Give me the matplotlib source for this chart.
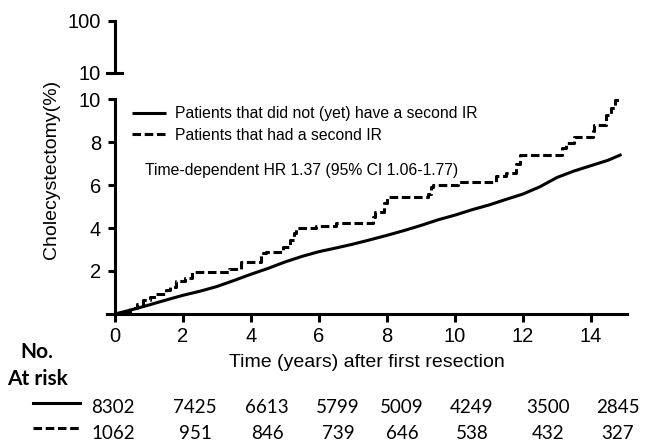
import matplotlib
matplotlib.use("Agg")
import matplotlib.pyplot as plt
from matplotlib.ticker import NullLocator, FixedLocator

plt.rcParams['font.family'] = ['Liberation Sans', 'DejaVu Sans']

# Кривая для пациентов без второй резекции
t_solid = [0, 0.5, 1, 1.5, 2, 2.5, 3, 3.5, 4, 4.5, 5, 5.5, 6, 6.5, 7, 7.5, 8,
           8.5, 9, 9.5, 10, 10.5, 11, 11.5, 12, 12.5, 13, 13.5, 14, 14.5, 14.9]
y_solid = [0, 0.2, 0.42, 0.65, 0.87, 1.06, 1.28, 1.56, 1.85, 2.12, 2.42, 2.68,
           2.9, 3.07, 3.25, 3.45, 3.66, 3.88, 4.12, 4.38, 4.6, 4.85, 5.07, 5.33,
           5.58, 5.92, 6.35, 6.65, 6.9, 7.15, 7.42]

# Ступенчатая кривая для пациентов со второй резекцией
t_dash = [0, 0.2, 0.44, 0.64, 0.83, 1.03, 1.2, 1.5, 1.62, 1.8, 2.05, 2.25, 3.35,
          3.7, 4.3, 4.45, 4.95, 5.15, 5.25, 5.33, 5.9, 6.5, 7.6, 7.65, 7.9, 8.0,
          9.2, 9.3, 9.35, 10.1, 11.2, 11.5, 11.8, 11.9, 13.15, 13.25, 13.5,
          14.05, 14.1, 14.45, 14.6, 14.7, 14.88]
y_dash = [0, 0.1, 0.26, 0.45, 0.65, 0.81, 0.91, 1.1, 1.27, 1.53, 1.69, 1.97,
          2.09, 2.43, 2.82, 2.9, 3.13, 3.44, 3.75, 4.0, 4.1, 4.22, 4.5, 4.75,
          5.15, 5.46, 5.6, 5.92, 6.0, 6.15, 6.4, 6.54, 7.0, 7.4, 7.7, 7.94,
          8.25, 8.5, 8.79, 9.26, 9.6, 9.95, 9.95]

x_ticks = [0, 2, 4, 6, 8, 10, 12, 14]
risk_solid = ['8302', '7425', '6613', '5799', '5009', '4249', '3500', '2845']
risk_dash = ['1062', '951', '846', '739', '646', '538', '432', '327']

label_solid = 'Patients that did not (yet) have a second IR'
label_dash = 'Patients that had a second IR'
hr_text = 'Time-dependent HR 1.37 (95% CI 1.06-1.77)'

W, H = 645, 444
fig = plt.figure(figsize=(W / 100, H / 100), dpi=100)

lw = 2.2
x0_px = 106.5          # левый край осей (t = -0.25)
px_per_year = 34.0
x_lo, x_hi = -0.25, 15.05
ax_w = (x_hi - x_lo) * px_per_year

# нижняя часть оси: 0..10
ax = fig.add_axes([x0_px / W, (H - 314) / H, ax_w / W, 215 / H])
ax.plot(t_solid, y_solid, color='black', lw=lw, solid_capstyle='butt')
ax.plot(t_dash, y_dash, color='black', lw=lw, drawstyle='steps-post',
        dashes=[2.8, 1.2])
ax.set_xlim(x_lo, x_hi)
ax.set_ylim(0, 10)
ax.spines['left'].set_position(('data', 0))
ax.spines['right'].set_visible(False)
ax.spines['top'].set_visible(False)
for s in ['left', 'bottom']:
    ax.spines[s].set_linewidth(lw)
ax.set_xticks(x_ticks)
ax.set_yticks([2, 4, 6, 8, 10])
ax.tick_params(axis='x', length=6, width=lw, labelsize=14.5, pad=3)
ax.tick_params(axis='y', length=5, width=lw, labelsize=14.5, pad=5)
ax.set_xlabel('Time (years) after first resection', fontsize=14, labelpad=6)

leg = ax.legend([label_solid, label_dash], loc='upper left',
                bbox_to_anchor=(0.036, 0.995), frameon=False, fontsize=11.3,
                handlelength=2.2, handletextpad=0.55, labelspacing=0.4,
                borderaxespad=0)
ax.text(0.074, 0.667, hr_text, transform=ax.transAxes, fontsize=11.3,
        va='center', ha='left')

# верхняя часть оси: 10..100
ax2 = fig.add_axes([x0_px / W, (H - 73) / H, ax_w / W, 52 / H])
ax2.set_yscale('log')
ax2.set_ylim(10, 100)
ax2.set_xlim(x_lo, x_hi)
ax2.spines['left'].set_position(('data', 0))
ax2.spines['left'].set_linewidth(lw)
ax2.spines['right'].set_visible(False)
ax2.spines['top'].set_visible(False)
ax2.spines['bottom'].set_linewidth(lw)
ax2.spines['bottom'].set_bounds(x_lo, 0.2)
ax2.xaxis.set_major_locator(NullLocator())
ax2.yaxis.set_major_locator(FixedLocator([10, 100]))
ax2.yaxis.set_minor_locator(NullLocator())
ax2.set_yticklabels(['10', '100'])
ax2.tick_params(axis='y', length=5, width=lw, labelsize=14.5, pad=5)
ax2.patch.set_alpha(0)

fig.text(52 / W, 1 - 169 / H, 'Cholecystectomy(%)', rotation=90,
         fontsize=14, ha='center', va='center')

# таблица "At risk"
bold = dict(family=['Lato', 'DejaVu Sans'], fontsize=15, fontweight='bold',
            ha='center', va='center')
fig.text(37 / W, 1 - 352 / H, 'No.', **bold)
fig.text(38 / W, 1 - 379 / H, 'At risk', **bold)

fig.add_artist(plt.Line2D([33 / W, 80 / W], [1 - 403 / H, 1 - 403 / H],
                          color='black', lw=lw))
fig.add_artist(plt.Line2D([33 / W, 80 / W], [1 - 428 / H, 1 - 428 / H],
                          color='black', lw=lw, dashes=[2.8, 1.2]))
num_x = [113, 195, 267, 338, 402, 472, 548, 618]
for xp, a, b in zip(num_x, risk_solid, risk_dash):
    fig.text(xp / W, 1 - 407 / H, a, family=['Lato', 'DejaVu Sans'],
             fontsize=13.5, ha='center', va='center')
    fig.text(xp / W, 1 - 433 / H, b, family=['Lato', 'DejaVu Sans'],
             fontsize=13.5, ha='center', va='center')

fig.savefig('out.png', dpi=100)
